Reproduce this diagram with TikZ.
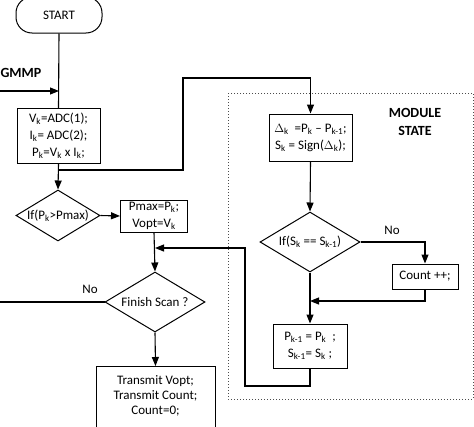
\documentclass[tikz,border=0pt]{standalone}
\usepackage{fontspec}
\setmainfont{Carlito}
\usetikzlibrary{arrows.meta,shapes.geometric}
\newcommand{\sbs}[1]{\textsubscript{#1}}
\begin{document}
\begin{tikzpicture}[x=1pt,y=-1pt,
  every node/.style={font=\fontsize{13}{17}\selectfont},
  boxnode/.style={draw,line width=1pt,rectangle,inner sep=0pt,align=center},
  decision/.style={draw,line width=1pt,diamond,inner sep=0pt},
  flow/.style={line width=1.1pt},
  arr/.style={line width=1.1pt,-{Triangle[length=9pt,width=7pt]}},
  bold/.style={font=\fontsize{14}{17}\selectfont\bfseries},
  dotframe/.style={line width=0.8pt,dash pattern=on 0.9pt off 2.1pt,black!70}]
\useasboundingbox (0,0) rectangle (474,426);
\begin{scope}
\clip (0,0) rectangle (474,426);
% dotted module frame
\draw[dotframe] (228,93) rectangle (473,399);
% nodes
\node[boxnode,rounded corners=16pt,minimum width=86pt,minimum height=36pt] (start) at (59,15) {\raisebox{-2pt}{START}};
\node[bold,anchor=west] (gmmp) at (-3,73) {GMMP};
\coordinate (gm) at (0,91);
\node[boxnode,minimum width=83pt,minimum height=55pt] (b1) at (58.5,136) {V\sbs{k}=ADC(1);\\I\sbs{k}= ADC(2);\\P\sbs{k}=V\sbs{k} x I\sbs{k};};
\node[decision,aspect=1.65,minimum width=84pt,minimum height=51pt] (d1) at (58,215.5) {If(P\sbs{k}>Pmax)};
\node[boxnode,minimum width=67pt,minimum height=32pt] (pm) at (154,216) {Pmax=P\sbs{k};\\Vopt=V\sbs{k}};
\node[decision,aspect=1.67,minimum width=100pt,minimum height=60pt] (d2) at (155,302) {Finish Scan ?};
\node[boxnode,minimum width=119pt,minimum height=80pt,anchor=north] (tx) at (155.5,366) {};
\node[anchor=north,align=center,font=\fontsize{13}{15}\selectfont] (txt) at ([yshift=-6pt]tx.north) {Transmit Vopt;\\Transmit Count;\\Count=0;};
\node[anchor=south] (no1) at (90,297) {No};
\coordinate (left) at (-5,302);
% module state
\node[bold,align=center,font=\fontsize{14}{18}\selectfont\bfseries] (ms) at (415,122) {MODULE\\STATE};
\node[boxnode,minimum width=83pt,minimum height=47pt] (dl) at (310.5,137.5) {$\Delta$\sbs{k} ~=P\sbs{k} -- P\sbs{k-1};\\S\sbs{k} = Sign($\Delta$\sbs{k});};
\node[decision,aspect=1.67,minimum width=100pt,minimum height=60pt] (d3) at (310,242) {If(S\sbs{k} == S\sbs{k-1})};
\node[anchor=south] (no2) at (392,238) {No};
\node[boxnode,minimum width=66pt,minimum height=25pt] (cnt) at (425,276.5) {Count ++;};
\node[boxnode,minimum width=74pt,minimum height=44pt] (pk) at (310,346) {P\sbs{k-1} = P\sbs{k} ~;\\S\sbs{k-1}= S\sbs{k} ;};
% connectors
\coordinate (j1) at (start.south |- gm);
\draw[flow] (start.south) -- (b1.north);
\draw[arr] (gm) -- (j1);
\draw[arr] (b1.south) -- (d1.north);
\coordinate (br) at (58.5,170);
\draw[arr] (br) -- (183,170) -- (183,78) -- (dl.north |- 0,78) -- (dl.north);
\draw[arr] (d1.east) -- (pm.west);
\draw[arr] (pm.south) -- (d2.north);
\coordinate (j2) at (155,248);
\draw[arr] (pk.south) -- (310,386) -- (245,386) -- (245,248) -- (j2);
\draw[flow] (d2.west) -- (left);
\draw[arr] (d2.south) -- (tx.north);
\draw[arr] (dl.south) -- (d3.north);
\draw[arr] (d3.east) -- (cnt.north |- d3.east) -- (cnt.north);
\coordinate (j3) at (310,301);
\draw[arr] (cnt.south) -- (cnt.south |- j3) -- (j3);
\draw[arr] (d3.south) -- (pk.north);
\end{scope}
\end{tikzpicture}
\end{document}
